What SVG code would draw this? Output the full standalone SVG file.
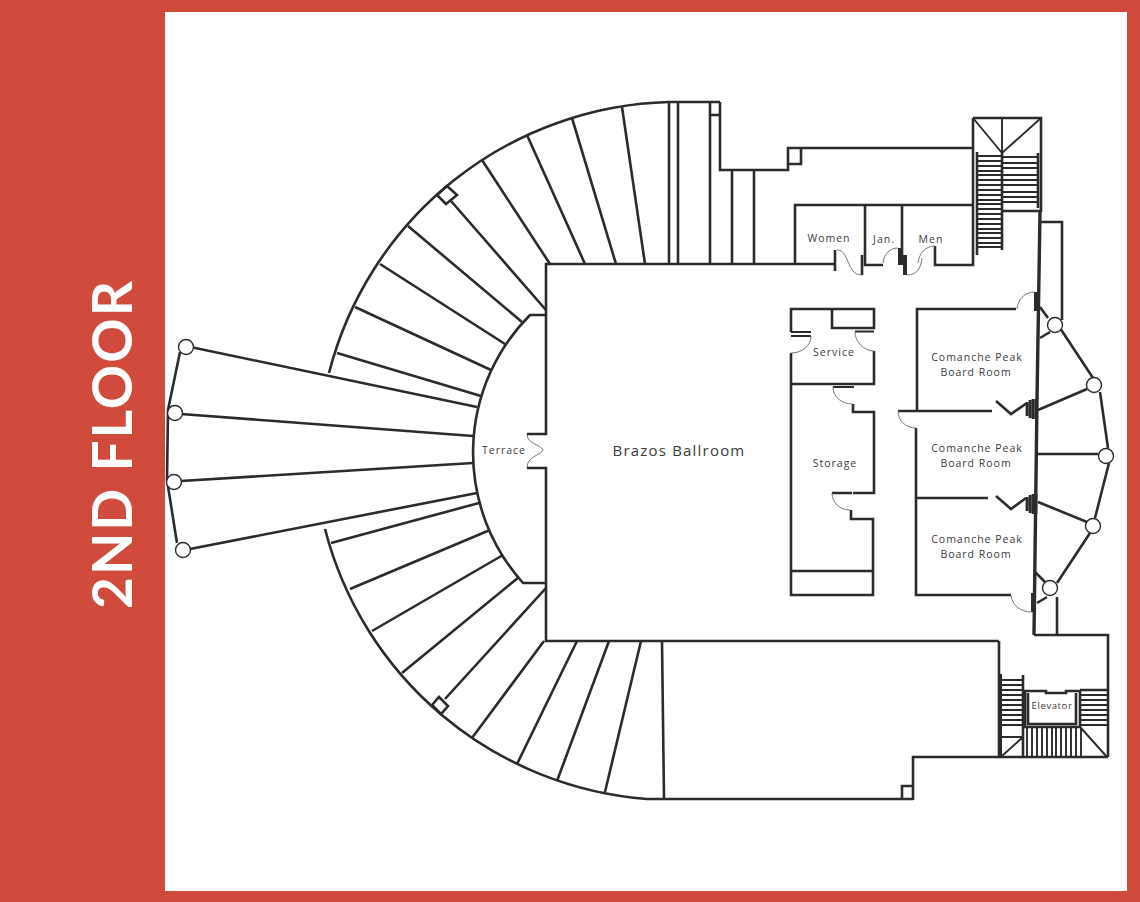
<svg xmlns="http://www.w3.org/2000/svg" width="1140" height="902" viewBox="0 0 1140 902">
<style>
.w{fill:none;stroke:#2b2b2b;stroke-width:2.6;stroke-linejoin:miter}
.t{fill:none;stroke:#2b2b2b;stroke-width:1.9}
.h{fill:none;stroke:#2b2b2b;stroke-width:4}
.d{fill:none;stroke:#777;stroke-width:1}
.c{fill:#fff;stroke:#2b2b2b;stroke-width:1.4}
.l{font-family:"Open Sans","Noto Sans",sans-serif;font-size:10.5px;letter-spacing:1px;fill:#3a3a3a;text-anchor:middle}
</style>
<rect width="1140" height="902" fill="#d14b3c"/>
<rect x="165" y="12" width="962" height="879" fill="#fff"/>
<text transform="translate(131.500,444) rotate(-90)" font-family="Lato,'Open Sans',sans-serif" font-weight="700" font-size="55" letter-spacing="2" fill="#fff" text-anchor="middle">2ND FLOOR</text>
<g id="outer-arcs">
<path class="w" d="M720 102H669A361 361 0 0 0 329 373"/>
<path class="w" d="M325 529A361 361 0 0 0 647 799H913"/>
</g>
<g id="radial-walls">
<path class="w" d="M669 102V264M678 102V264M710 102V264M710 115H720M622 107L645 264M572 118L616 264M527 135L585 264M482 160L550 264M451 201L546 310M408 226L522 322M380 264L505 344M355 307L491 370M337 353L481 396M437 195L447 186L457 195L446 204Z"/>
<path class="w" d="M479 503L331 543M490 530L350 589M503 555L372 631M519 577L402 673M546 588L445 699M544 641L472 738M577 641L517 764M609 641L557 781M641 641L605 792M662 641L664 799M432 705L439 697L448 706L441 714Z"/>
</g>
<g id="terrace">
<path class="w" d="M181 345L477 407M181 414L473 436M181 481L473 463M190 549L477 493M180 352L168 410L167 480L177 543"/>
<path class="w" d="M546 315H530A195 195 0 0 0 523 583H546"/>
<path class="d" d="M527 434C527 444 540 444 543 450C540 456 527 456 527 468"/>
<circle class="c" cx="186" cy="347" r="7.5"/><circle class="c" cx="175" cy="413" r="7.5"/><circle class="c" cx="174" cy="482" r="7.5"/><circle class="c" cx="183" cy="550" r="7.5"/>
<text class="l" x="504" y="454">Terrace</text>
</g>
<g id="ballroom">
<path class="w" d="M527 434H546V264H835M527 468H546V641H999"/>
<text class="l" x="679" y="456" style="font-size:15px;letter-spacing:1.2px">Brazos Ballroom</text>
</g>
<g id="upper-wing">
<path class="w" d="M720 102V170H788V148H973M732 170V264M754 170V264M788 164H801V149"/>
</g>
<g id="restrooms">
<path class="w" d="M795 265V205H973M865 205V265H883M902 205V265M935 246V265H973V118"/>
<path class="w" d="M835 250V271M862 255V275"/>
<path class="h" d="M900 248V265M905 255V275"/>
<path class="d" d="M837 250C850 250 846 275 862 275M883 263C884 254 890 248 898 248M907 275C917 275 921 268 922 258M918 263C919 254 925 246 935 246"/>
<text class="l" x="829" y="242">Women</text><text class="l" x="884" y="243">Jan.</text><text class="l" x="931" y="243">Men</text>
</g>
<g id="north-stair">
<path class="w" d="M973 118H1041V212M1002 211H1040"/>
<path class="t" d="M973 118L1002 153L1041 118M1002 118V153"/>
<path class="h" style="stroke-width:2.6" d="M977 152V255M1002 153V250M1038 153V208"/>
<path class="t" d="M978 156H1002M978 161H1002M978 166H1002M978 171H1002M978 175H1002M978 180H1002M978 185H1002M978 190H1002M978 195H1002M978 200H1002M978 204H1002M978 209H1002M978 214H1002M978 219H1002M978 224H1002M978 229H1002M978 233H1002M978 238H1002M978 243H1002M978 247H1002M1003 157H1037M1003 163H1037M1003 168H1037M1003 175H1037M1003 180H1037M1003 185H1037M1003 192H1037M1003 197H1037M1003 202H1037"/>
</g>
<g id="service">
<path class="w" d="M791 332V309H874V328H832V309M791 353V595H873V519H851V510M874 351V384H791M853 404V412H874V493H853M852 493H832M791 571H873"/>
<path class="t" d="M791 332H811M791 336H811M855 331.500H874M833 387H854"/>
<path class="d" d="M811 336C811 346 802 353 791 353M855 332C855 342 864 351 874 351M833 387C833 397 842 404 852 404M832 493C832 503 840 510 850 510"/>
<text class="l" x="834" y="356">Service</text><text class="l" x="835" y="467">Storage</text>
</g>
<g id="board-rooms">
<path class="w" d="M1016 309H917V411M898 411H992M916 428V595H1011M916 498H988M996 401L1011 414L1027 403M996 496L1011 509L1026 498"/>
<path class="h" d="M1036 292V311M1033 593V612"/>
<path class="t" style="stroke-width:2.8" d="M1027 402V416M1030 400V418M1033 399V419M1036 399V419M1027 497V511M1030 495V513M1033 494V514M1036 494V514"/>
<path class="d" d="M1017 309C1018 299 1025 292 1035 292M898 411C898 421 906 428 916 428M1011 595C1012 605 1020 612 1032 612"/>
<text class="l" x="977" y="361">Comanche Peak</text><text class="l" x="976" y="376">Board Room</text>
<text class="l" x="977" y="452">Comanche Peak</text><text class="l" x="976" y="467">Board Room</text>
<text class="l" x="977" y="543">Comanche Peak</text><text class="l" x="976" y="558">Board Room</text>
</g>
<g id="east-terrace">
<path class="h" style="stroke-width:3.4" d="M1040 212L1037 400L1034 635"/>
<path class="w" d="M1041 222H1062V320M1040 307L1048 318M1040 338L1050 332M1060 328L1093 378M1100 392L1108 448M1109 463L1095 518M1090 533L1057 583M1035 572L1045 582M1037 603L1047 597M1038 410L1087 389M1038 454L1098 454M1038 502L1087 522M1057 597V635M1034 635H1108V757"/>
<circle class="c" cx="1055" cy="325" r="7.500"/><circle class="c" cx="1094" cy="385" r="7.500"/><circle class="c" cx="1106" cy="456" r="7.500"/><circle class="c" cx="1093" cy="526" r="7.500"/><circle class="c" cx="1050" cy="588" r="7.500"/>
</g>
<g id="south-stair">
<path class="w" d="M999 641V757M913 800V757H1108M902 800V786H913M1023 675V757M1025 691H1046V693H1066V691H1080V727H1025ZM1028 693V724H1076V693M1080 690H1107"/>
<path class="h" d="M1000 674V757"/>
<path class="t" d="M1002 680H1023M1002 685H1023M1002 690H1023M1002 695H1023M1002 700H1023M1002 705H1023M1002 710H1023M1002 715H1023M1002 720H1023M1002 725H1023M1002 737H1023M1002 756L1023 737M1081 695H1107M1081 700H1107M1081 705H1107M1081 710H1107M1081 715H1107M1081 720H1107M1081 725H1107M1081 728L1107 757M1027 727V757M1032 727V757M1037 727V757M1042 727V757M1047 727V757M1052 727V757M1056 727V757M1061 727V757M1066 727V757M1071 727V757M1076 727V757M1081 727V757"/>
<text class="l" x="1052" y="709" style="font-size:9.500px;letter-spacing:.6px">Elevator</text>
</g>
</svg>
